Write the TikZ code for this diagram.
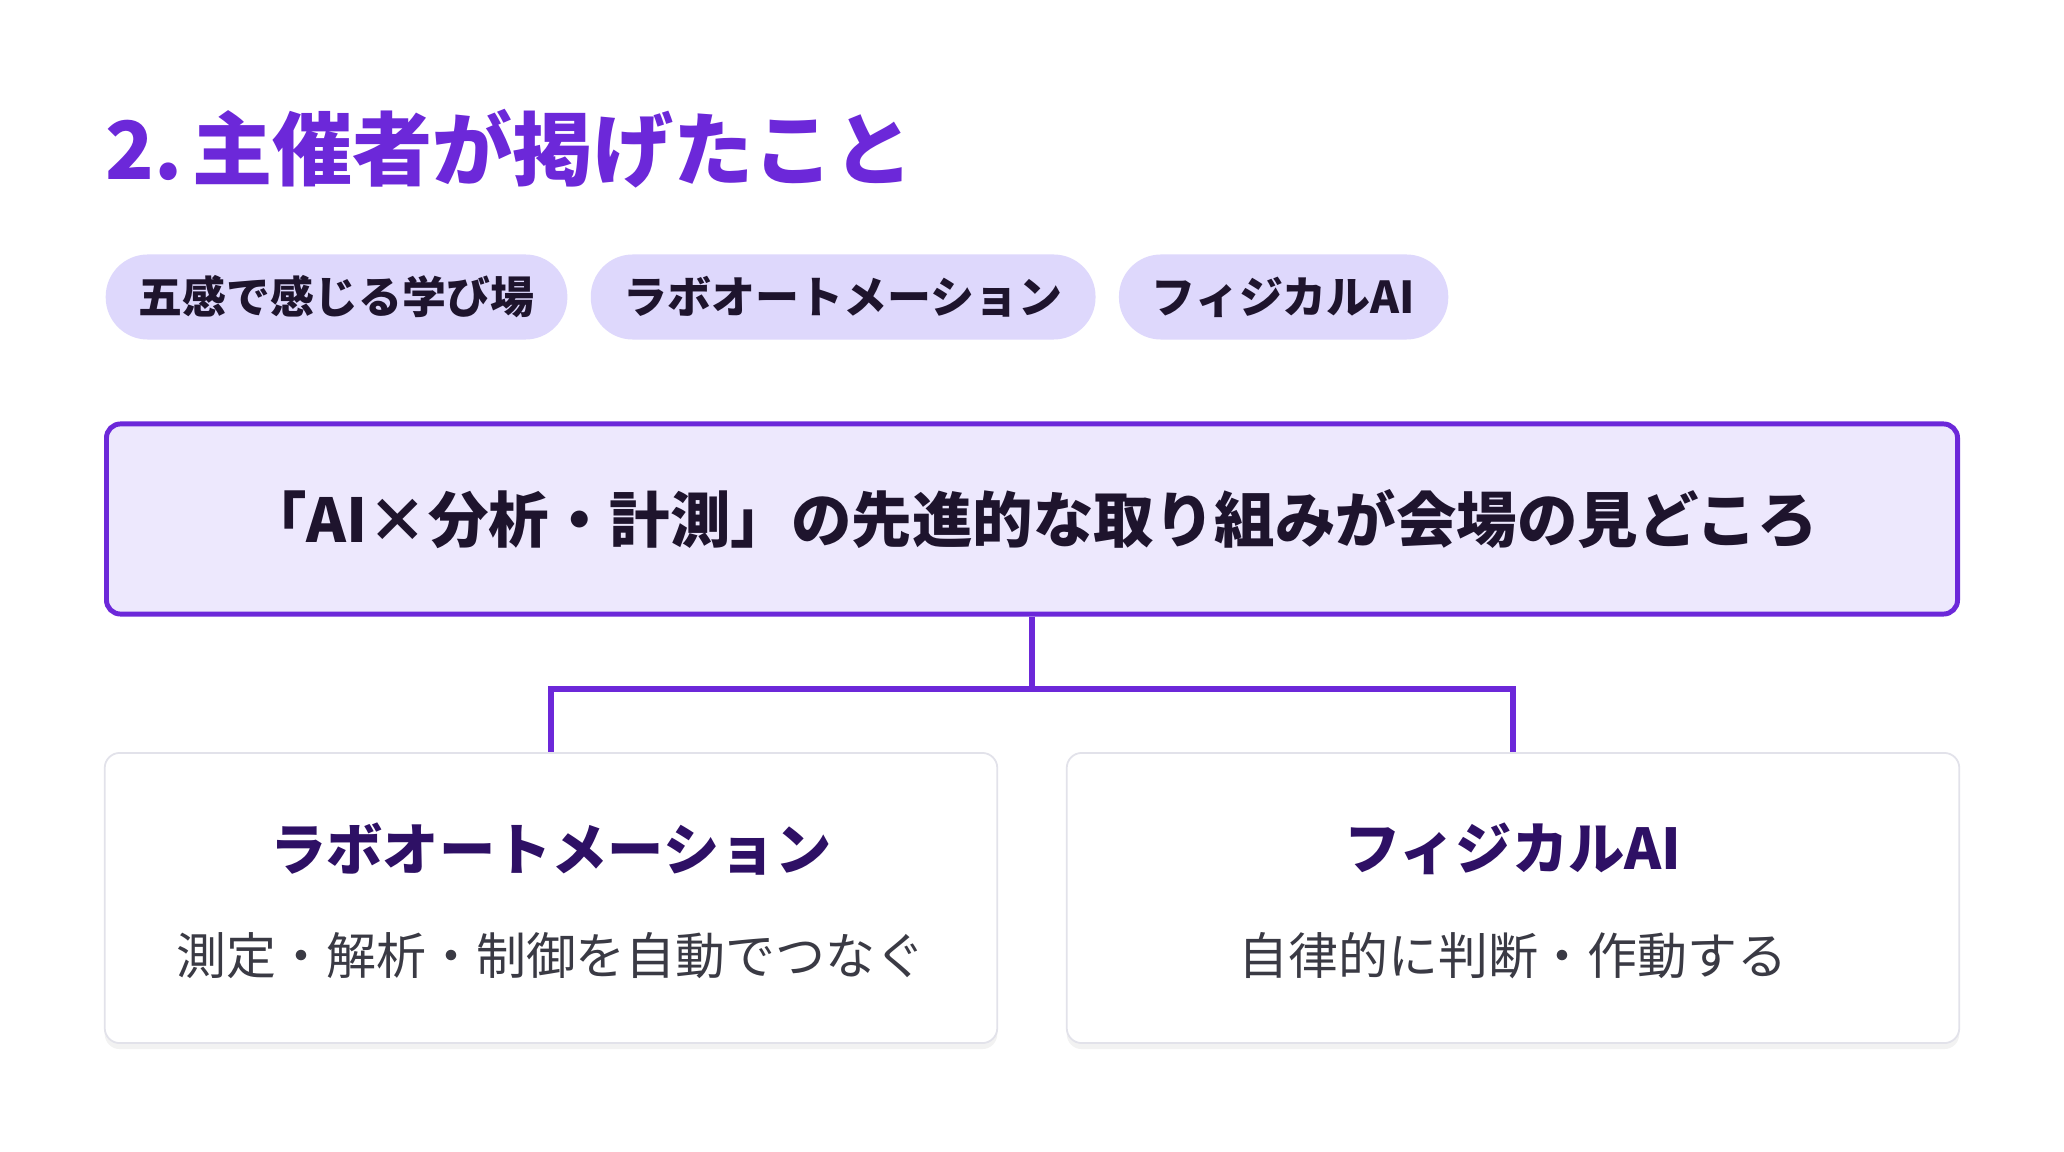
\documentclass[tikz,border=0pt]{standalone}
\usepackage{fontspec}
\setmainfont{Noto Sans CJK JP}
\definecolor{AccentColor}{RGB}{108,40,217}
\definecolor{PillColor}{RGB}{222,216,252}
\definecolor{HeadFill}{RGB}{237,232,253}
\definecolor{TextColor}{RGB}{30,20,45}
\definecolor{TopicColor}{RGB}{46,16,101}
\definecolor{SubColor}{RGB}{58,58,68}
\definecolor{EdgeColor}{RGB}{226,226,234}
\usetikzlibrary{positioning, shadows}
\tikzstyle{link} = [line width=1.7pt, AccentColor]
\tikzset{
  pagetitle/.style={anchor=west, inner sep=0pt, text=AccentColor, font=\fontsize{22.8pt}{27pt}\selectfont\bfseries},
  tag/.style={rounded corners=0.42cm, fill=PillColor, minimum height=0.85cm, inner xsep=0.33cm, text=TextColor, font=\fontsize{12.5pt}{15pt}\selectfont\bfseries},
  headline/.style={draw=AccentColor, line width=1.4pt, fill=HeadFill, rounded corners=0.14cm, minimum width=18.5cm, minimum height=1.9cm, text=TextColor, font=\fontsize{17.2pt}{20pt}\selectfont\bfseries},
  topic/.style={draw=EdgeColor, line width=0.5pt, fill=white, rounded corners=0.15cm, minimum width=8.92cm, minimum height=2.9cm, drop shadow={opacity=0.1, shadow xshift=0pt, shadow yshift=-0.06cm}},
  topic title/.style={text=TopicColor, font=\fontsize{16pt}{19pt}\selectfont\bfseries},
  topic text/.style={text=SubColor, font=\fontsize{14.2pt}{17pt}\selectfont}
}
\begin{document}
\begin{tikzpicture}[x=0.01cm, y=-0.01cm]
  \fill[white] (0,0) rectangle (2064,1152);
  \useasboundingbox (0,0) rectangle (2064,1152);

  % Title
  \node[pagetitle] (title) at (105,149) {2.\hspace{0.12em}主催者が掲げたこと};

  % Tags
  \node[tag, anchor=west] (tag1) at (105,297) {五感で感じる学び場};
  \node[tag, right=0.22cm of tag1] (tag2) {ラボオートメーション};
  \node[tag, right=0.22cm of tag2] (tag3) {フィジカルAI};

  % Headline box
  \node[headline] (main) at (1032,519) {「AI×分析・計測」の先進的な取り組みが会場の見どころ};

  % Topic boxes
  \node[topic] (lab) at (551,898) {};
  \node[topic] (phys) at (1513,898) {};
  \node[topic title] (labtitle) at (551,849) {ラボオートメーション};
  \node[topic text] (labtext) at (551,956) {測定・解析・制御を自動でつなぐ};
  \node[topic title] (phystitle) at (1513,849) {フィジカルAI};
  \node[topic text] (phystext) at (1513,956) {自律的に判断・作動する};

  % Connectors
  \draw[link] (main.south) -- ++(0,72) coordinate (hub);
  \draw[link] (hub) -| (lab.north);
  \draw[link] (hub) -| (phys.north);
\end{tikzpicture}
\end{document}
